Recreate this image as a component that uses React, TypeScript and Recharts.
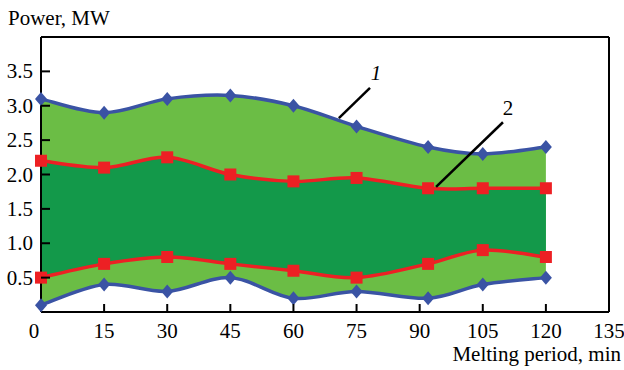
import React from 'react';
import {
  ComposedChart,
  Area,
  Line,
  XAxis,
  YAxis,
  ReferenceLine,
  ReferenceDot
} from 'recharts';

// melting period, min (the 4th-from-last point sits a bit right of 90)
const minutes = [0, 15, 30, 45, 60, 75, 92, 105, 120];
// curve 1 (blue, envelope)
const upper1 = [3.1, 2.9, 3.1, 3.15, 3.0, 2.7, 2.4, 2.3, 2.4];
const lower1 = [0.1, 0.4, 0.3, 0.5, 0.2, 0.3, 0.2, 0.4, 0.5];
// curve 2 (red, inner band)
const upper2 = [2.2, 2.1, 2.25, 2.0, 1.9, 1.95, 1.8, 1.8, 1.8];
const lower2 = [0.5, 0.7, 0.8, 0.7, 0.6, 0.5, 0.7, 0.9, 0.8];

const xTicks = [0, 15, 30, 45, 60, 75, 90, 105, 120, 135];
const yTicks = [0.5, 1.0, 1.5, 2.0, 2.5, 3.0, 3.5];

const BLUE = '#3a53a4';
const RED = '#ed2024';
const LIGHT = '#6bbd45';
const DARK = '#13994a';
const FONT = "'Liberation Serif', 'Times New Roman', serif";
const FS = 21;

const data = minutes.map((m, i) => ({
  m,
  u1: upper1[i],
  l1: lower1[i],
  u2: upper2[i],
  l2: lower2[i],
  outer: [lower1[i], upper1[i]],
  inner: [lower2[i], upper2[i]]
}));

// Catmull-Rom style smoothing, like the spreadsheet "smoothed line"
const smooth = (context: any) => {
  let xs: number[] = [];
  let ys: number[] = [];
  let line = NaN;
  return {
    areaStart() { line = 0; },
    areaEnd() { line = NaN; },
    lineStart() { xs = []; ys = []; },
    point(x: number, y: number) { xs.push(+x); ys.push(+y); },
    lineEnd() {
      const n = xs.length;
      if (n) {
        if (line) context.lineTo(xs[0], ys[0]);
        else context.moveTo(xs[0], ys[0]);
        for (let i = 0; i < n - 1; i++) {
          const a = Math.max(i - 1, 0);
          const d = Math.min(i + 2, n - 1);
          context.bezierCurveTo(
            xs[i] + (xs[i + 1] - xs[a]) / 6,
            ys[i] + (ys[i + 1] - ys[a]) / 6,
            xs[i + 1] - (xs[d] - xs[i]) / 6,
            ys[i + 1] - (ys[d] - ys[i]) / 6,
            xs[i + 1],
            ys[i + 1]
          );
        }
      }
      if (line || (line !== 0 && n === 1)) context.closePath();
      line = 1 - line;
    }
  };
};

const Diamond = (props: any) => {
  const { cx, cy, index } = props;
  return (
    <path
      key={`d-${index}`}
      d={`M${cx},${cy - 7}L${cx + 6},${cy}L${cx},${cy + 7}L${cx - 6},${cy}Z`}
      fill={BLUE}
    />
  );
};

const Square = (props: any) => {
  const { cx, cy, index } = props;
  return <rect key={`s-${index}`} x={cx - 6} y={cy - 6} width={12} height={12} fill={RED} />;
};

const XTick = ({ x, y, payload }: any) => {
  const v = payload.value;
  return (
    <g>
      {v > 0 && v < 135 && (
        <line x1={x} x2={x} y1={y} y2={y - 8} stroke="#000" strokeWidth={2} />
      )}
      <text
        x={v === 0 ? x - 7 : x}
        y={y + 26}
        textAnchor="middle"
        style={{ fontFamily: FONT, fontSize: FS }}
        fill="#000"
      >
        {v}
      </text>
    </g>
  );
};

const YTick = ({ x, y, payload }: any) => (
  <g>
    <line x1={x} x2={x + 9} y1={y} y2={y} stroke="#000" strokeWidth={2} />
    <text
      x={x - 8}
      y={y + 7}
      textAnchor="end"
      style={{ fontFamily: FONT, fontSize: FS }}
      fill="#000"
    >
      {payload.value.toFixed(1)}
    </text>
  </g>
);

export default function App() {
  return (
    <div style={{ position: 'absolute', left: 0, top: 0, width: 624, height: 370, background: '#fff' }}>
      <ComposedChart
        width={624}
        height={370}
        data={data}
        margin={{ top: 37, right: 15, bottom: 18, left: 0 }}
      >
        <XAxis
          type="number"
          dataKey="m"
          domain={[0, 135]}
          ticks={xTicks}
          interval={0}
          height={40}
          tickSize={0}
          tickMargin={0}
          tickLine={false}
          tick={<XTick />}
          axisLine={{ stroke: '#000', strokeWidth: 2 }}
        />
        <YAxis
          type="number"
          domain={[0, 4]}
          ticks={yTicks}
          interval={0}
          width={41}
          tickSize={0}
          tickMargin={0}
          tickLine={false}
          tick={<YTick />}
          axisLine={{ stroke: '#000', strokeWidth: 2 }}
        />
        <Area
          dataKey="outer"
          type={smooth as any}
          fill={LIGHT}
          fillOpacity={1}
          stroke="none"
          dot={false}
          activeDot={false}
          isAnimationActive={false}
        />
        <Area
          dataKey="inner"
          type={smooth as any}
          fill={DARK}
          fillOpacity={1}
          stroke="none"
          dot={false}
          activeDot={false}
          isAnimationActive={false}
        />
        <Line dataKey="u1" type={smooth as any} stroke={BLUE} strokeWidth={3.5} dot={<Diamond />} activeDot={false} isAnimationActive={false} />
        <Line dataKey="l1" type={smooth as any} stroke={BLUE} strokeWidth={3.5} dot={<Diamond />} activeDot={false} isAnimationActive={false} />
        <Line dataKey="u2" type={smooth as any} stroke={RED} strokeWidth={3.5} dot={<Square />} activeDot={false} isAnimationActive={false} />
        <Line dataKey="l2" type={smooth as any} stroke={RED} strokeWidth={3.5} dot={<Square />} activeDot={false} isAnimationActive={false} />
        <ReferenceLine y={4} stroke="#000" strokeWidth={2} />
        <ReferenceLine x={135} stroke="#000" strokeWidth={2} />
        <ReferenceLine segment={[{ x: 70.8, y: 2.82 }, { x: 78.2, y: 3.26 }]} stroke="#000" strokeWidth={2.5} />
        <ReferenceLine segment={[{ x: 93.9, y: 1.82 }, { x: 109.8, y: 2.76 }]} stroke="#000" strokeWidth={2.5} />
        <ReferenceDot
          x={79.6}
          y={3.48}
          r={0}
          stroke="none"
          label={{ value: '1', position: 'center', fontFamily: FONT, fontSize: FS, fontStyle: 'italic', fill: '#000' }}
        />
        <ReferenceDot
          x={111}
          y={2.97}
          r={0}
          stroke="none"
          label={{ value: '2', position: 'center', fontFamily: FONT, fontSize: FS, fill: '#000' }}
        />
      </ComposedChart>
      <svg width={624} height={370} style={{ position: 'absolute', left: 0, top: 0, pointerEvents: 'none' }}>
        <text x={8} y={25} style={{ fontFamily: FONT, fontSize: FS }} fill="#000">
          Power, MW
        </text>
        <text x={621} y={361} textAnchor="end" style={{ fontFamily: FONT, fontSize: FS }} fill="#000">
          Melting period, min
        </text>
      </svg>
    </div>
  );
}
